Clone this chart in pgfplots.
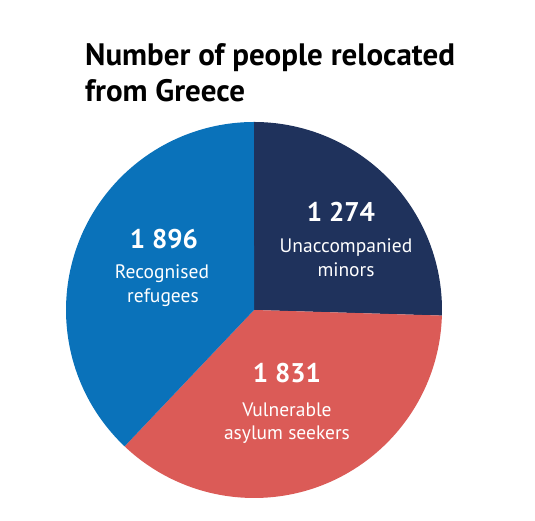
\documentclass[border=0pt]{standalone}
\usepackage{pgfplots}
\pgfplotsset{compat=1.18}
\usepackage{pgfplotstable}
\usepackage{fontspec}
\setmainfont{PT Sans}
\definecolor{cblue}{RGB}{10,114,186}
\definecolor{cnavy}{RGB}{31,50,92}
\definecolor{cred}{RGB}{219,91,87}
\pgfplotstableread{
label value
Unaccompanied 1274
Vulnerable 1831
Recognised 1896
}\piedata
\pgfplotstablegetelem{0}{value}\of\piedata\let\vA\pgfplotsretval
\pgfplotstablegetelem{1}{value}\of\piedata\let\vB\pgfplotsretval
\pgfplotstablegetelem{2}{value}\of\piedata\let\vC\pgfplotsretval
\pgfmathsetmacro{\tot}{\vA+\vB+\vC}
\pgfmathsetmacro{\fA}{\vA/\tot}
\pgfmathsetmacro{\fB}{\vB/\tot}
\pgfmathsetmacro{\fC}{\vC/\tot}
\pgfmathsetmacro{\aA}{90}
\pgfmathsetmacro{\aB}{90-360*\fA}
\pgfmathsetmacro{\aC}{\aB-360*\fB}
\pgfmathsetmacro{\aD}{\aC-360*\fC}
\begin{document}
\begin{tikzpicture}
\begin{axis}[
  hide axis, clip=false,
  x=188bp, y=188bp,
  xmin=-1.3511, xmax=1.4947, ymin=-1.1223, ymax=1.6489,
]
\path (axis cs:-1.3511,-1.1223) rectangle (axis cs:1.4947,1.6489);
\fill[cnavy] (axis cs:0,0) -- (axis cs:{cos(\aA)},{sin(\aA)}) arc[start angle=\aA, end angle=\aB, radius=188bp] -- cycle;
\fill[cred] (axis cs:0,0) -- (axis cs:{cos(\aB)},{sin(\aB)}) arc[start angle=\aB, end angle=\aC, radius=188bp] -- cycle;
\fill[cblue] (axis cs:0,0) -- (axis cs:{cos(\aC)},{sin(\aC)}) arc[start angle=\aC, end angle=\aD, radius=188bp] -- cycle;
% title
\node[anchor=base west, inner sep=0pt, font=\fontsize{31bp}{31bp}\selectfont\bfseries] at (axis cs:-0.899,1.2979) {Number of people relocated};
\node[anchor=base west, inner sep=0pt, font=\fontsize{31bp}{31bp}\selectfont\bfseries] at (axis cs:-0.899,1.1064) {from Greece};
% labels
\tikzset{num/.style={anchor=base, inner sep=0pt, text=white, font=\fontsize{27bp}{27bp}\selectfont\bfseries},
         lab/.style={anchor=base, inner sep=0pt, text=white, font=\fontsize{19.5bp}{19.5bp}\selectfont}}
\node[num] at (axis cs:-0.4787,0.3245) {1 896};
\node[lab] at (axis cs:-0.4894,0.1649) {Recognised};
\node[lab] at (axis cs:-0.484,0.0372) {refugees};
\node[num] at (axis cs:0.4628,0.4681) {1 274};
\node[lab] at (axis cs:0.4894,0.3032) {Unaccompanied};
\node[lab] at (axis cs:0.4894,0.1755) {minors};
\node[num] at (axis cs:0.1755,-0.3883) {1 831};
\node[lab] at (axis cs:0.1755,-0.5691) {Vulnerable};
\node[lab] at (axis cs:0.1755,-0.6915) {asylum seekers};
\end{axis}
\end{tikzpicture}
\end{document}
